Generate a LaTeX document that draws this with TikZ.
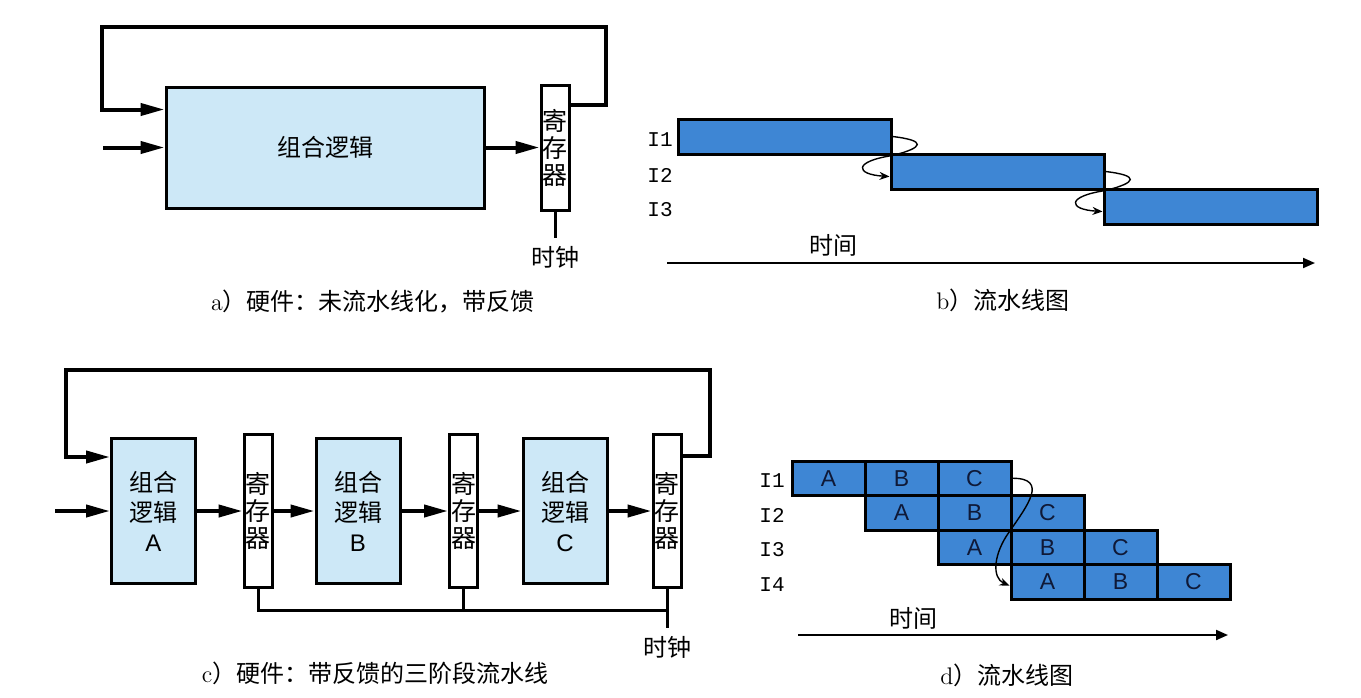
\documentclass[tikz,border=0pt]{standalone}
\usepackage{fontspec}
\newfontfamily\zh{Noto Sans CJK SC}
\newfontfamily\sans{Liberation Sans}
\newfontfamily\mono{Liberation Mono}
\usetikzlibrary{arrows.meta,positioning}
\definecolor{logicblue}{RGB}{205,232,247}
\definecolor{barblue}{RGB}{62,134,212}
\definecolor{cellink}{RGB}{15,25,55}
\tikzset{
	wire/.style={line width=2pt},
	clk/.style={line width=1.5pt},
	arr/.style={wire,-{Triangle[length=12pt,width=6pt]}},
	logic/.style={draw,line width=1.5pt,fill=logicblue,inner sep=0pt,align=center,font=\zh\fontsize{12}{15}\selectfont},
	reg/.style={draw,line width=1.5pt,fill=white,inner sep=0pt,align=center,minimum width=14pt,font=\zh\fontsize{12.5}{13.5}\selectfont},
	bar/.style={draw,line width=1.5pt,fill=barblue,inner sep=0pt,minimum width=106.5pt,minimum height=17.5pt},
	cell/.style={draw,line width=1.5pt,fill=barblue,inner sep=0pt,minimum width=36.5pt,minimum height=17.25pt,text=cellink,font=\sans\fontsize{11.5}{12}\selectfont},
	ilab/.style={inner sep=0pt,font=\mono\fontsize{10.5}{12}\selectfont},
	txt/.style={inner sep=1pt,font=\zh\fontsize{12}{14}\selectfont},
	flow/.style={line width=0.7pt,-{Stealth[length=5pt,width=4pt]}},
	timeline/.style={line width=1pt,-{Triangle[length=6pt,width=5pt]}}
}
\begin{document}
\begin{tikzpicture}[x=0.5pt,y=-0.5pt]
	\useasboundingbox (0,0) rectangle (1361,697);

	\node [logic,minimum width=159pt,minimum height=60.5pt] (comba) at (325,147.5) {组合逻辑};
	\node [reg,minimum height=62.5pt] (rega) at (555,147.5) {寄\\存\\器};
	\coordinate (ina) at (103,147.5);
	\coordinate (tra) at (606,27);
	\coordinate (tla) at (102,27);
	\draw [arr] (ina) -- (comba.west);
	\draw [arr] (comba.east) -- (rega.west);
	\draw [arr] ([yshift=-10.5pt]rega.north east) -| (tra) -- (tla) |- ([yshift=-12pt]comba.north west);
	\draw [clk] (rega.south) -- ++(0,26) coordinate (clka);
	\node [txt,below=3pt of clka] (clkta) {时钟};
	\node [txt] (capa) at (373,302) {{\rmfamily a}）硬件：未流水线化，带反馈};

	\foreach \i in {1,2,3}{
		\node [bar] (bar\i) at ({678+213*(\i-0.5)},{119+35*(\i-0.5)}) {};
		\node [ilab] (ib\i) at (660,{140+35*(\i-1)}) {I\i};
	}
	\foreach \i/\j in {1/2,2/3}
		\draw [flow] (bar\i.east) .. controls +(34,4) and +(32,-8) .. (bar\i.south east) .. controls +(-40,6) and +(-34,-2) .. ([yshift=-2.5pt]bar\j.west);
	\coordinate (tb0) at (667,263);
	\coordinate (tb1) at (1315,263);
	\draw [timeline] (tb0) -- (tb1);
	\node [txt] (timeb) at (833,245) {时间};
	\node [txt] (capb) at (1003,300) {{\rmfamily b}）流水线图};

	\foreach \n/\x in {A/153.5,B/358,C/565}
		\node [logic,minimum width=42pt,minimum height=72.5pt] (lg\n) at (\x,511) {组合\\逻辑\\{\sans \n}};
	\foreach \k/\x in {1/258,2/463.5,3/667}
		\node [reg,minimum height=76.5pt] (rg\k) at (\x,511) {寄\\存\\器};
	\coordinate (inc) at (55,511);
	\draw [arr] (inc) -- (lgA.west);
	\foreach \a/\b in {lgA/rg1,rg1/lgB,lgB/rg2,rg2/lgC,lgC/rg3}
		\draw [arr] (\a.east) -- (\b.west);
	\coordinate (trc) at (710,370);
	\coordinate (tlc) at (66,370);
	\draw [arr] ([yshift=-11.5pt]rg3.north east) -| (trc) -- (tlc) |- ([yshift=-10pt]lgA.north west);
	\coordinate (busc) at (667,610);
	\coordinate (clkc) at (667,628);
	\draw [clk] (rg1.south) |- (busc);
	\draw [clk] (rg2.south) -- (rg2.south |- busc);
	\draw [clk] (rg3.south) -- (clkc);
	\node [txt,below=3pt of clkc] (clktc) {时钟};
	\node [txt] (capc) at (375,673) {{\rmfamily c}）硬件：带反馈的三阶段流水线};

	\foreach \r in {1,...,4}{
		\node [ilab] (id\r) at (772,{481+34.5*(\r-1)}) {I\r};
		\foreach \c/\s in {1/A,2/B,3/C}
			\node [cell] (c\r\s) at ({792+73*(\r+\c-1.5)},{461+34.5*(\r-0.5)}) {\s};
	}
	\draw [flow] (c1C.east) .. controls +(36,0) and +(18,-26) .. (c2C.south west) .. controls +(-16,22) and +(-18,-8) .. ([yshift=-2pt]c4A.west);
	\coordinate (td0) at (798,635);
	\coordinate (td1) at (1228,635);
	\draw [timeline] (td0) -- (td1);
	\node [txt] (timed) at (913,618) {时间};
	\node [txt] (capd) at (1007,675) {{\rmfamily d}）流水线图};
\end{tikzpicture}
\end{document}
